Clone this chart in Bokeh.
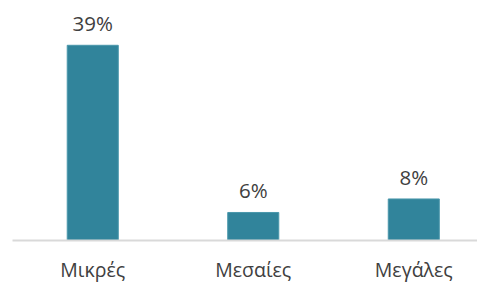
from bokeh.plotting import figure
from bokeh.models import ColumnDataSource, Range1d, FixedTicker
from bokeh.core.properties import value
from bokeh.embed import file_html
from bokeh.resources import INLINE

categories = ["Μικρές", "Μεσαίες", "Μεγάλες"]
shares = [0.39, 0.056, 0.083]
labels = [f"{round(v * 100):.0f}%" for v in shares]

xs = list(range(len(categories)))
src = ColumnDataSource(dict(x=xs, top=shares, label=labels))

FONT = "Open Sans"
TXT = "#404040"

p = figure(width=477, height=285, output_backend="svg", toolbar_location=None,
           x_range=Range1d(-0.5, 2.397), y_range=Range1d(0, 0.4795),
           min_border_left=12, min_border_right=0, min_border_top=0, min_border_bottom=44)
p.outline_line_color = None
p.background_fill_color = "white"
p.border_fill_color = "white"
p.xgrid.visible = False
p.ygrid.visible = False
p.yaxis.visible = False

p.vbar(x="x", top="top", width=0.318, bottom=0, source=src,
       fill_color="#31849B", line_color="#4a97ab", line_width=1)

p.text(x="x", y="top", text="label", source=src, text_align="center",
       text_baseline="alphabetic", y_offset=-22, text_font=value(FONT),
       text_font_size="20.5px", text_color=TXT)

ax = p.xaxis[0]
ax.ticker = FixedTicker(ticks=xs)
ax.major_label_overrides = {i: c for i, c in zip(xs, categories)}
ax.axis_line_color = "#d9d9d9"
ax.axis_line_width = 2
ax.major_tick_line_color = None
ax.minor_tick_line_color = None
ax.major_label_text_font = FONT
ax.major_label_text_font_size = "19.5px"
ax.major_label_text_color = TXT
ax.major_label_standoff = 9

open("out.html", "w").write(file_html(p, INLINE))
